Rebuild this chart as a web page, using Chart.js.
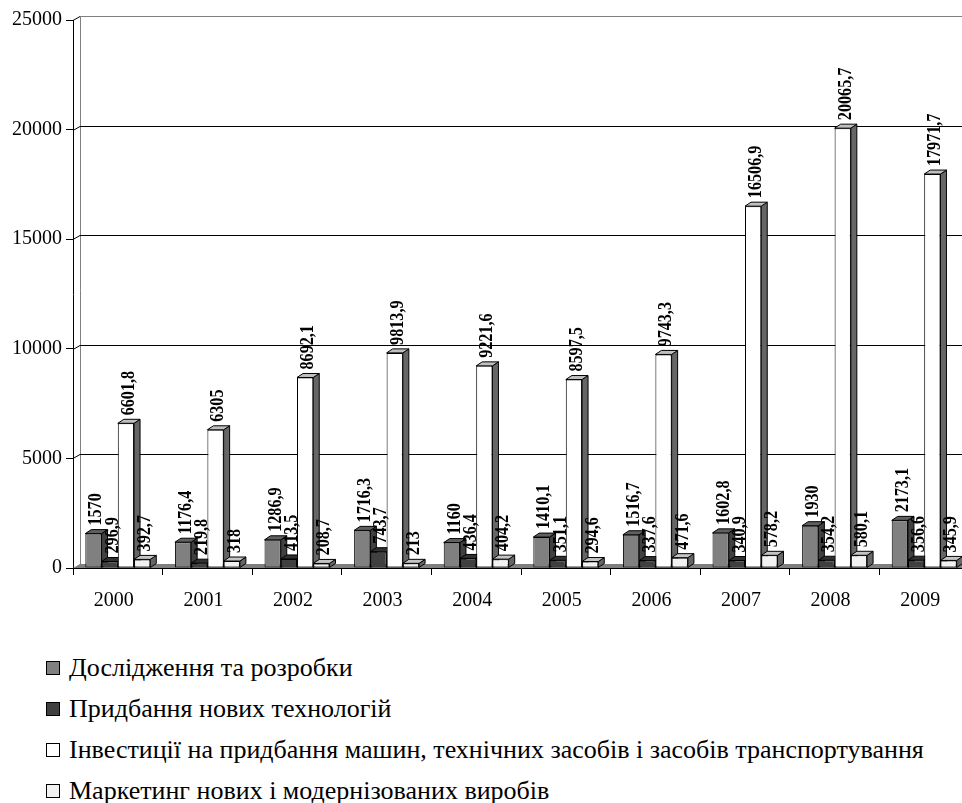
<!DOCTYPE html>
<html>
<head>
<meta charset="utf-8">
<script src="https://cdn.jsdelivr.net/npm/chart.js@4/dist/chart.umd.min.js"></script>
<style>
  html, body { margin: 0; padding: 0; overflow: hidden; background: #fff; width: 962px; height: 803px; }
  #wrap { position: relative; width: 975px; height: 630px; }
  #legend { position: absolute; left: 46px; top: 647px; font-family: "Liberation Serif", "Times New Roman", serif; font-size: 26px; color: #000; white-space: nowrap; }
  .item { height: 41px; display: flex; align-items: center; }
  .box { width: 12px; height: 12px; border: 1px solid #000; margin-right: 9px; flex: none; }
</style>
</head>
<body>
<div id="wrap"><canvas id="chart" width="975" height="630"></canvas></div>
<div id="legend"></div>
<script>
const years = ["2000", "2001", "2002", "2003", "2004", "2005", "2006", "2007", "2008", "2009"];
const research = [1570, 1176.4, 1286.9, 1716.3, 1160, 1410.1, 1516.7, 1602.8, 1930, 2173.1];
const newTech = [296.9, 219.8, 413.5, 743.7, 436.4, 351.1, 337.6, 340.9, 354.2, 356.6];
const machines = [6601.8, 6305, 8692.1, 9813.9, 9221.6, 8597.5, 9743.3, 16506.9, 20065.7, 17971.7];
const marketing = [392.7, 318, 208.7, 213, 404.2, 294.6, 471.6, 578.2, 580.1, 345.9];
const yTicks = [0, 5000, 10000, 15000, 20000, 25000];

Chart.defaults.font.family = "'Liberation Serif', 'Times New Roman', serif";
Chart.defaults.color = "#000";

// 3d depth of bars and of the back wall
const DX = 6, DY = -4, WX = 7, WY = -4;

const depth = {
  id: "depth",
  beforeDatasetsDraw(chart) {
    const { ctx, chartArea: a, scales: { y } } = chart;
    const right = chart.width + 20;
    ctx.save();
    ctx.lineWidth = 1;
    // floor
    ctx.fillStyle = "#7f7f7f";
    ctx.beginPath();
    ctx.moveTo(a.left, a.bottom);
    ctx.lineTo(a.left + WX, a.bottom + WY);
    ctx.lineTo(right, a.bottom + WY);
    ctx.lineTo(right, a.bottom);
    ctx.closePath();
    ctx.fill();
    // wall edge
    const topY = Math.round(y.getPixelForValue(y.max)) + 0.5;
    ctx.strokeStyle = "#808080";
    ctx.beginPath();
    ctx.moveTo(a.left + WX + 0.5, topY + WY);
    ctx.lineTo(a.left + WX + 0.5, a.bottom + WY);
    ctx.stroke();
    // grid on the wall
    y.ticks.forEach(t => {
      if (t.value === 0) return;
      const py = Math.round(y.getPixelForValue(t.value)) + 0.5;
      ctx.strokeStyle = "#000";
      ctx.beginPath();
      ctx.moveTo(a.left, py);
      ctx.lineTo(a.left + WX, py + WY);
      ctx.stroke();
      ctx.strokeStyle = t.value === y.max ? "#808080" : "#000";
      ctx.beginPath();
      ctx.moveTo(a.left + WX, py + WY);
      ctx.lineTo(right, py + WY);
      ctx.stroke();
    });
    // sides and tops of bars
    ctx.strokeStyle = "#000";
    chart.data.datasets.forEach((ds, i) => {
      chart.getDatasetMeta(i).data.forEach(bar => {
        const l = bar.x - bar.width / 2, r = bar.x + bar.width / 2, t = bar.y, b = bar.base;
        ctx.fillStyle = ds.sideColor;
        ctx.beginPath();
        ctx.moveTo(r, t); ctx.lineTo(r + DX, t + DY); ctx.lineTo(r + DX, b + DY); ctx.lineTo(r, b);
        ctx.closePath(); ctx.fill(); ctx.stroke();
        ctx.fillStyle = ds.topColor;
        ctx.beginPath();
        ctx.moveTo(l, t); ctx.lineTo(l + DX, t + DY); ctx.lineTo(r + DX, t + DY); ctx.lineTo(r, t);
        ctx.closePath(); ctx.fill(); ctx.stroke();
      });
    });
    ctx.restore();
  },
  afterDatasetsDraw(chart) {
    const ctx = chart.ctx;
    ctx.save();
    ctx.fillStyle = "#000";
    ctx.font = "bold 19px 'Liberation Serif', serif";
    ctx.textAlign = "left";
    ctx.textBaseline = "middle";
    chart.data.datasets.forEach((ds, i) => {
      chart.getDatasetMeta(i).data.forEach((bar, j) => {
        const txt = String(ds.data[j]).replace(".", ",");
        ctx.save();
        ctx.translate(bar.x + 3, bar.y + DY - 4);
        ctx.rotate(-Math.PI / 2);
        ctx.scale(0.85, 1);
        ctx.fillText(txt, 0, 0);
        ctx.restore();
      });
    });
    ctx.restore();
  }
};

const chart = new Chart(document.getElementById("chart"), {
  type: "bar",
  data: {
    labels: years,
    datasets: [
      { label: "Дослідження та розробки", data: research, backgroundColor: "#808080", sideColor: "#404040", topColor: "#606060" },
      { label: "Придбання нових технологій", data: newTech, backgroundColor: "#404040", sideColor: "#202020", topColor: "#303030" },
      { label: "Інвестиції на придбання машин, технічних засобів і засобів транспортування", data: machines, backgroundColor: "#ffffff", sideColor: "#666666", topColor: "#bfbfbf" },
      { label: "Маркетинг нових і модернізованих виробів", data: marketing, backgroundColor: "#f2f2f2", sideColor: "#666666", topColor: "#c4c4c4" }
    ].map(d => Object.assign(d, { borderColor: "#000", borderWidth: 1, borderSkipped: false }))
  },
  options: {
    responsive: false,
    animation: false,
    layout: { padding: { top: 20, right: 6, left: 0, bottom: 0 } },
    datasets: { bar: { categoryPercentage: 0.725, barPercentage: 1 } },
    scales: {
      x: {
        grid: { drawOnChartArea: false, tickLength: 7, color: "#000", offset: true },
        border: { color: "#000" },
        ticks: { padding: 14, labelOffset: -4, font: { size: 20 }, maxRotation: 0 },
        afterFit: s => { s.height = 62; }
      },
      y: {
        min: 0,
        max: 25000,
        afterBuildTicks: s => { s.ticks = yTicks.map(v => ({ value: v })); },
        grid: { drawOnChartArea: false, tickLength: 7, color: "#000" },
        border: { color: "#000" },
        ticks: { padding: 4, font: { size: 20 }, callback: v => String(v) },
        afterFit: s => { s.width = 73; }
      }
    },
    plugins: { legend: { display: false }, tooltip: { enabled: false } }
  },
  plugins: [depth]
});

const legend = document.getElementById("legend");
chart.data.datasets.forEach(ds => {
  const item = document.createElement("div");
  item.className = "item";
  const box = document.createElement("span");
  box.className = "box";
  box.style.background = ds.backgroundColor;
  const text = document.createElement("span");
  text.textContent = ds.label;
  item.appendChild(box);
  item.appendChild(text);
  legend.appendChild(item);
});
</script>
</body>
</html>
